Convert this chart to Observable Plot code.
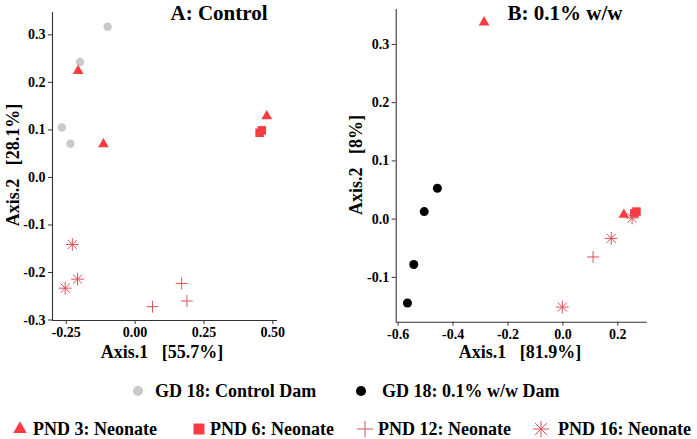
<!DOCTYPE html>
<html><head><meta charset="utf-8">
<script src="https://cdn.jsdelivr.net/npm/d3@7"></script>
<script src="https://cdn.jsdelivr.net/npm/@observablehq/plot@0.6"></script>
<style>
html,body{margin:0;padding:0;background:#fff;}
#chart{position:relative;width:697px;height:439px;overflow:hidden;font-family:"Liberation Serif",Tinos,"Times New Roman",Times,"DejaVu Serif",serif;font-weight:bold;}
#chart svg{position:absolute;}
#chart svg text{font-family:"Liberation Serif",Tinos,"Times New Roman",Times,"DejaVu Serif",serif !important;font-weight:bold;}
</style></head><body><div id="chart"></div>
<script>
// ---------- Data: Panel A (Control) ----------
const aTitle = "A: Control";
const aXLabel = "Axis.1\u00a0\u00a0\u00a0[55.7%]";
const aYLabel = "Axis.2\u00a0\u00a0\u00a0[28.1%]";
const aXDomain = [-0.300, 0.517];
const aYDomain = [-0.301, 0.347];
const aXTicks = [-0.25, 0, 0.25, 0.5];
const aYTicks = [-0.3, -0.2, -0.1, 0, 0.1, 0.2, 0.3];
const aCtrlDamX = [-0.100, -0.200, -0.266, -0.235];
const aCtrlDamY = [0.317, 0.243, 0.105, 0.071];
const aPnd3X = [-0.207, -0.115, 0.478];
const aPnd3Y = [0.224, 0.070, 0.129];
const aPnd6X = [0.452, 0.460];
const aPnd6Y = [0.094, 0.099];
const aPnd12X = [0.063, 0.169, 0.188];
const aPnd12Y = [-0.272, -0.223, -0.260];
const aPnd16X = [-0.228, -0.209, -0.254];
const aPnd16Y = [-0.141, -0.214, -0.233];

// ---------- Data: Panel B (0.1% w/w) ----------
const bTitle = "B: 0.1% w/w";
const bXLabel = "Axis.1\u00a0\u00a0\u00a0[81.9%]";
const bYLabel = "Axis.2\u00a0\u00a0\u00a0[8%]";
const bXDomain = [-0.607, 0.307];
const bYDomain = [-0.177, 0.360];
const bXTicks = [-0.6, -0.4, -0.2, 0, 0.2];
const bYTicks = [-0.1, 0, 0.1, 0.2, 0.3];
const bDamX = [-0.457, -0.505, -0.543, -0.566];
const bDamY = [0.053, 0.013, -0.078, -0.144];
const bPnd3X = [-0.287, 0.222];
const bPnd3Y = [0.338, 0.0076];
const bPnd6X = [0.260, 0.268];
const bPnd6Y = [0.010, 0.013];
const bPnd12X = [0.110];
const bPnd12Y = [-0.065];
const bPnd16X = [0.176, -0.002, 0.252];
const bPnd16Y = [-0.033, -0.151, 0.002];

// ---------- Legend ----------
const legendRow1 = ["GD 18: Control Dam", "GD 18: 0.1% w/w Dam"];
const legendRow2 = ["PND 3: Neonate", "PND 6: Neonate", "PND 12: Neonate", "PND 16: Neonate"];

const RED = "#F63C42";
const RED_LINE = "#DB5257";
const GRAY = "#C9C9C9";
const BLACK = "#000000";
const AXIS = "#333333";
const FONT = "'Liberation Serif',Tinos,'Times New Roman',Times,'DejaVu Serif',serif";

const pts = (xs, ys) => xs.map((x, i) => ({x, y: ys[i]}));
const fmt2 = d => d.toFixed(2);
const fmt1 = d => d.toFixed(1);

function panel({width, height, mL, mR, mT, mB, xDomain, yDomain, xTicks, yTicks, xFmt, yFmt, groups}) {
  const marks = [
    Plot.ruleX([xDomain[0]], {stroke: AXIS, strokeWidth: 1.1}),
    Plot.ruleY([yDomain[0]], {stroke: AXIS, strokeWidth: 1.1}),
    Plot.axisX({ticks: xTicks, tickFormat: xFmt, tickSize: 4, tickPadding: 3, stroke: AXIS, fill: "black", label: null, fontFamily: FONT, fontWeight: "bold", fontSize: 14}),
    Plot.axisY({ticks: yTicks, tickFormat: yFmt, tickSize: 4, tickPadding: 3, stroke: AXIS, fill: "black", label: null, fontFamily: FONT, fontWeight: "bold", fontSize: 14})
  ];
  for (const g of groups) {
    const data = pts(g.xs, g.ys);
    if (g.kind === "circle") marks.push(Plot.dot(data, {x: "x", y: "y", r: g.r, fill: g.color, symbol: "circle"}));
    if (g.kind === "triangle") marks.push(Plot.dot(data, {x: "x", y: "y", r: 4.0, fill: RED, symbol: "triangle"}));
    if (g.kind === "square") marks.push(Plot.dot(data, {x: "x", y: "y", r: 4.8, fill: RED, symbol: "square"}));
    if (g.kind === "plus") marks.push(Plot.dot(data, {x: "x", y: "y", r: 3.9, stroke: RED_LINE, strokeWidth: 1, symbol: "plus"}));
    if (g.kind === "asterisk") {
      marks.push(Plot.dot(data, {x: "x", y: "y", r: 4.2, stroke: RED_LINE, strokeWidth: 1, symbol: "plus"}));
      marks.push(Plot.dot(data, {x: "x", y: "y", r: 4.2, stroke: RED_LINE, strokeWidth: 1, symbol: "times"}));
    }
  }
  return Plot.plot({
    width, height, marginLeft: mL, marginRight: mR, marginTop: mT, marginBottom: mB,
    x: {domain: xDomain}, y: {domain: yDomain},
    style: {fontFamily: FONT, fontSize: "14px", fontWeight: "bold", color: "black", background: "transparent", overflow: "visible"},
    marks
  });
}

const chart = document.getElementById("chart");

const pA = panel({
  width: 300, height: 370, mL: 52, mR: 23, mT: 12, mB: 50,
  xDomain: aXDomain, yDomain: aYDomain, xTicks: aXTicks, yTicks: aYTicks, xFmt: fmt2, yFmt: fmt1,
  groups: [
    {kind: "circle", xs: aCtrlDamX, ys: aCtrlDamY, r: 4.2, color: GRAY},
    {kind: "triangle", xs: aPnd3X, ys: aPnd3Y},
    {kind: "square", xs: aPnd6X, ys: aPnd6Y},
    {kind: "plus", xs: aPnd12X, ys: aPnd12Y},
    {kind: "asterisk", xs: aPnd16X, ys: aPnd16Y}
  ]
});
pA.style.left = "0px"; pA.style.top = "0px";
chart.appendChild(pA);

const pB = panel({
  width: 330, height: 370, mL: 60.7, mR: 18.3, mT: 9, mB: 48.3,
  xDomain: bXDomain, yDomain: bYDomain, xTicks: bXTicks, yTicks: bYTicks, xFmt: fmt1, yFmt: fmt1,
  groups: [
    {kind: "circle", xs: bDamX, ys: bDamY, r: 4.5, color: BLACK},
    {kind: "triangle", xs: bPnd3X, ys: bPnd3Y},
    {kind: "square", xs: bPnd6X, ys: bPnd6Y},
    {kind: "plus", xs: bPnd12X, ys: bPnd12Y},
    {kind: "asterisk", xs: bPnd16X, ys: bPnd16Y}
  ]
});
pB.style.left = "335px"; pB.style.top = "0px";
chart.appendChild(pB);

// ---------- Overlay: titles, axis titles, legend ----------
const ov = d3.select(chart).append("svg")
  .attr("width", 697).attr("height", 439)
  .style("left", "0px").style("top", "0px")
  .attr("font-family", FONT)
  .attr("font-weight", "bold").style("pointer-events", "none");

ov.append("text").attr("x", 219).attr("y", 20).attr("text-anchor", "middle").attr("font-size", 21).text(aTitle);
ov.append("text").attr("x", 565).attr("y", 20).attr("text-anchor", "middle").attr("font-size", 21).text(bTitle);

ov.append("text").attr("x", 162).attr("y", 358).attr("text-anchor", "middle").attr("font-size", 18).text(aXLabel);
ov.append("text").attr("x", 520).attr("y", 358).attr("text-anchor", "middle").attr("font-size", 18).text(bXLabel);
ov.append("text").attr("transform", "translate(19,165) rotate(-90)").attr("text-anchor", "middle").attr("font-size", 18).text(aYLabel);
ov.append("text").attr("transform", "translate(362,165) rotate(-90)").attr("text-anchor", "middle").attr("font-size", 18).text(bYLabel);

const sym = (type, size) => d3.symbol(type, size)();
const leg = [
  {x: 138, y: 391, tx: 155, label: legendRow1[0], d: sym(d3.symbolCircle, 80), fill: GRAY},
  {x: 361, y: 391, tx: 382, label: legendRow1[1], d: sym(d3.symbolCircle, 80), fill: BLACK},
  {x: 20, y: 429, tx: 33, label: legendRow2[0], d: sym(d3.symbolTriangle, 80), fill: RED},
  {x: 199, y: 429, tx: 210, label: legendRow2[1], d: sym(d3.symbolSquare, 120), fill: RED},
  {x: 365, y: 429, tx: 378, label: legendRow2[2], d: sym(d3.symbolPlus, 90), stroke: RED_LINE},
  {x: 541, y: 429, tx: 558, label: legendRow2[3], d: sym(d3.symbolPlus, 90) + sym(d3.symbolTimes, 90), stroke: RED_LINE}
];
for (const l of leg) {
  ov.append("path").attr("d", l.d).attr("transform", `translate(${l.x},${l.y})`)
    .attr("fill", l.fill || "none").attr("stroke", l.stroke || "none").attr("stroke-width", 1);
  ov.append("text").attr("x", l.tx).attr("y", l.y + 6).attr("font-size", 18).text(l.label);
}
</script></body></html>
